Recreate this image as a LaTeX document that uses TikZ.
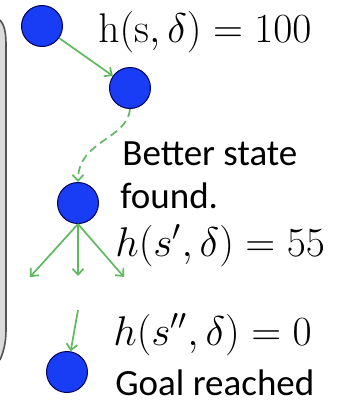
\documentclass[tikz,border=0pt]{standalone}
\usepackage[no-math]{fontspec}
\setmainfont{Carlito}
\usetikzlibrary{arrows.meta}
\definecolor{stateblue}{RGB}{25,60,245}
\definecolor{edgegreen}{RGB}{95,185,95}
\begin{document}
\begin{tikzpicture}[x=0.5pt,y=-0.5pt,
  state/.style={circle,draw=blue!35!black,line width=0.5pt,fill=stateblue,minimum size=20.5pt,inner sep=0pt},
  succ/.style={-{Straight Barb[length=3pt,width=5.5pt]},draw=edgegreen,line width=0.85pt},
  lbl/.style={anchor=base west,inner sep=0pt,font=\fontsize{18.5}{22}\selectfont},
  mlbl/.style={anchor=base west,inner sep=0pt,font=\fontsize{19.5}{23}\selectfont}]
\useasboundingbox (0,0) rectangle (350,404);
% side bracket
\fill[gray!28] (0,20) .. controls (4,24) and (6,32) .. (6,44) -- (6,330) .. controls (6,344) and (3,353) .. (0,360) -- cycle;
\draw[gray!65!black,line width=0.8pt] (0,20) .. controls (4,24) and (6,32) .. (6,44) -- (6,330) .. controls (6,344) and (3,353) .. (0,360);
% states
\node[state] (s0) at (42,26) {};
\node[state] (s1) at (130,88) {};
\node[state] (s2) at (78,203) {};
\node[state] (s3) at (67,372) {};
\coordinate (c1) at (30,277);
\coordinate (c2) at (78,276);
\coordinate (c3) at (124,277);
\coordinate (c4) at (78,310);
% moves
\draw[succ] (s0) -- (s1);
\draw[succ,dash pattern=on 4pt off 2.5pt] (s1.south) .. controls (127,140) and (78,140) .. (s2.north);
\draw[succ] (s2.south) -- (c1);
\draw[succ] (s2.south) -- (c2);
\draw[succ] (s2.south) -- (c3);
\draw[succ] (c4) -- (s3);
% labels
\node[mlbl] (h0) at (98,42) {$\mathrm{h}(\mathrm{s},\delta)=100$};
\node[lbl] (better) at (122,165) {Better state};
\node[lbl] (found) at (120,208) {found.};
\node[mlbl] (h1) at (115,256) {$h(s',\delta)=55$};
\node[mlbl] (h2) at (113,345) {$h(s'',\delta)=0$};
\node[lbl] (goal) at (115,395) {Goal reached};
\end{tikzpicture}
\end{document}
